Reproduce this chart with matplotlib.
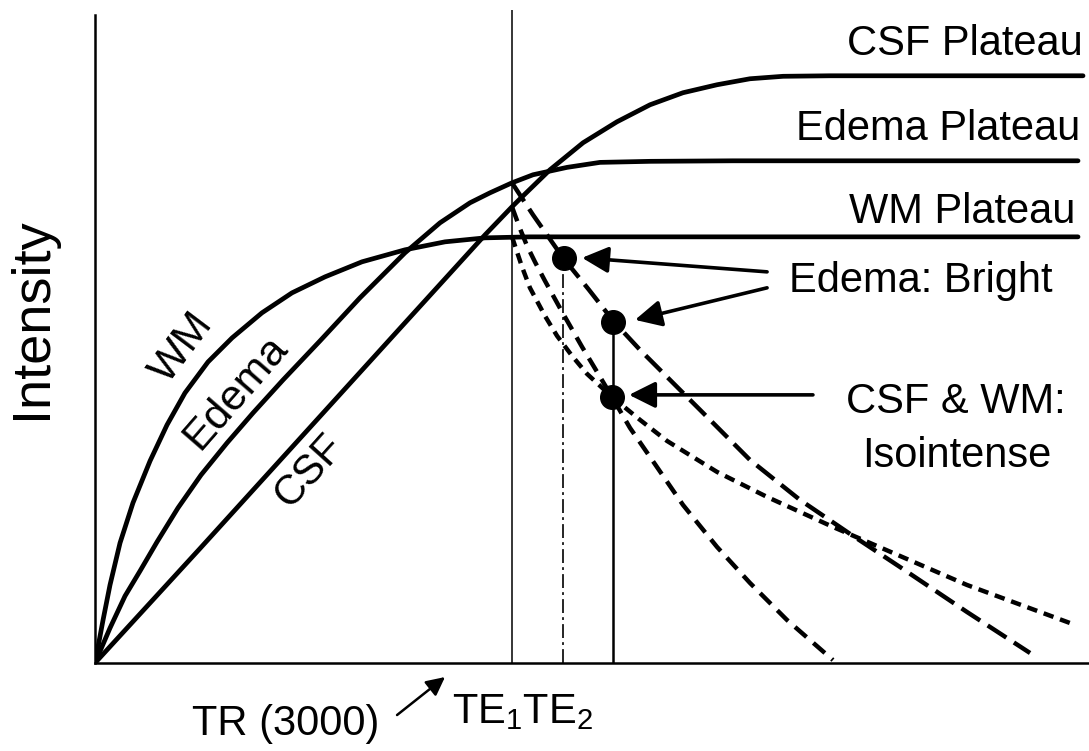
import matplotlib
matplotlib.use('Agg')
import matplotlib.pyplot as plt

plt.rcParams['font.family'] = ['Liberation Sans', 'DejaVu Sans']
plt.rcParams['mathtext.fontset'] = 'custom'
plt.rcParams['mathtext.rm'] = 'Liberation Sans'
plt.rcParams['mathtext.it'] = 'Liberation Sans'
plt.rcParams['lines.scale_dashes'] = False

# time axis in ms, intensity in % of the CSF plateau
TR = 3000
TE1 = 3365
TE2 = 3725
X_END = 7151
Y_TOP = 111.2

# T1 recovery curves
wm_x = [0, 58, 108, 180, 273, 396, 518, 647, 813, 986, 1201, 1417, 1655, 1921, 2230, 2518, 2806,
        3130, 7072]
wm_y = [0, 7.33, 13.29, 20.44, 27.26, 34.41, 40.54, 45.98, 51.27, 55.36, 59.63, 63.03, 65.76,
        68.32, 70.36, 71.72, 72.40, 72.57, 72.57]

edema_x = [0, 108, 216, 324, 446, 597, 763, 950, 1137, 1353, 1619, 1906, 2230, 2482, 2698, 2842,
           3000, 3151, 3396, 3633, 3993, 4590, 7072]
edema_y = [0, 5.96, 11.41, 15.67, 20.61, 26.41, 32.03, 37.48, 42.59, 48.21, 54.86, 62.18, 69.85,
           74.96, 78.37, 80.07, 81.77, 83.14, 84.40, 85.25, 85.43, 85.52, 85.52]

csf_x = [0, 755, 1475, 2194, 2806, 3000, 3058, 3273, 3511, 3755, 3993, 4230, 4475, 4712, 4950,
         5288, 7108]
csf_y = [0, 19.49, 38.25, 56.99, 72.91, 77.69, 79.05, 83.99, 88.59, 92.16, 95.06, 97.11, 98.47,
         99.49, 99.91, 100.0, 100.0]

# T2 decay curves after TR
edema_dec_x = [3000, 3151, 3367, 3554, 3734, 3921, 4187, 4353, 4712, 5072, 5432, 5791, 6273, 6727]
edema_dec_y = [81.77, 76.32, 69.00, 63.54, 58.09, 53.32, 47.02, 43.10, 34.58, 27.77, 21.98, 16.35,
               8.69, 1.70]

csf_dec_x = [3000, 3058, 3108, 3165, 3237, 3360, 3504, 3612, 3719, 3849, 3993, 4230, 4475, 4712,
             4978, 5309]
csf_dec_y = [77.68, 73.94, 71.04, 68.31, 65.08, 59.80, 53.83, 49.57, 45.32, 40.03, 35.09, 26.92,
             19.76, 13.63, 7.33, 0.5]

wm_dec_x = [3000, 3036, 3072, 3129, 3237, 3324, 3432, 3540, 3719, 3921, 4115, 4475, 4835, 5309,
            5791, 6273, 7014]
wm_dec_y = [72.57, 70.02, 67.46, 63.89, 59.11, 55.71, 52.30, 49.23, 45.32, 41.40, 37.82, 32.54,
            28.28, 23.17, 18.23, 13.29, 6.81]

# marked points
dot_x = [3372, 3725, 3722]
dot_y = [68.9, 58.1, 45.3]

fig = plt.figure(figsize=(10.89, 7.51), dpi=100)
ax = fig.add_axes([95 / 1089, 88 / 751, 994 / 1089, 653 / 751])
ax.set_xlim(0, X_END)
ax.set_ylim(0, Y_TOP)
ax.set_xticks([])
ax.set_yticks([])
ax.spines['top'].set_visible(False)
ax.spines['right'].set_visible(False)
ax.spines['left'].set_linewidth(1.8)
ax.spines['bottom'].set_linewidth(1.8)
ax.spines['left'].set_bounds(0, 110.4)

k = 'black'
ax.plot(wm_x, wm_y, color=k, lw=3.4, solid_capstyle='round')
ax.plot(edema_x, edema_y, color=k, lw=3.4, solid_capstyle='round')
ax.plot(csf_x, csf_y, color=k, lw=3.4, solid_capstyle='round')

ax.plot(edema_dec_x, edema_dec_y, color=k, lw=3.2, dashes=(16, 6.5))
ax.plot(csf_dec_x, csf_dec_y, color=k, lw=3.2, dashes=(11, 6.5))
ax.plot(wm_dec_x, wm_dec_y, color=k, lw=3.2, dashes=(7.5, 5))

ax.axvline(TR, color=k, lw=1.1)
ax.plot([TE1, TE1], [0, dot_y[0]], color=k, lw=1.2, dashes=(10, 3, 2, 3))
ax.plot([TE2, TE2], [0, dot_y[1]], color=k, lw=1.8)
ax.plot(dot_x, dot_y, 'o', color=k, ms=17, ls='none')

fs = 30
ax.text(7108, 103.58, 'CSF Plateau', fontsize=fs, ha='right', va='baseline')
ax.text(7086, 89.10, 'Edema Plateau', fontsize=fs, ha='right', va='baseline')
ax.text(7050, 74.96, 'WM Plateau', fontsize=fs, ha='right', va='baseline')
ax.text(5942, 63.20, 'Edema: Bright', fontsize=fs, ha='center', va='baseline')
ax.text(6194, 42.59, 'CSF & WM:', fontsize=fs, ha='center', va='baseline')
ax.text(6201, 33.39, 'Isointense', fontsize=fs, ha='center', va='baseline')
ax.text(1374, -12.27, 'TR (3000)', fontsize=fs, ha='center', va='baseline')
ax.text(2568, -10.22, 'TE$_1$TE$_2$', fontsize=fs, ha='left', va='baseline')

ax.text(626, 53.66, 'WM', fontsize=31, rotation=53, ha='center', va='center', rotation_mode='anchor')
ax.text(1014, 46.17, 'Edema', fontsize=31, rotation=49, ha='center', va='center', rotation_mode='anchor')
ax.text(1547, 32.7, 'CSF', fontsize=30, rotation=48, ha='center', va='center', rotation_mode='anchor')

fig.text(32 / 1089, 1 - 318 / 751, 'Intensity', fontsize=39, rotation=90, ha='center', va='center')

arr = dict(arrowstyle='-|>,head_length=0.4,head_width=0.2', mutation_scale=40, color=k, lw=2.6,
           shrinkA=0, shrinkB=0)
ax.annotate('', xy=(3504, 69.0), xytext=(4835, 66.61), arrowprops=arr)
ax.annotate('', xy=(3885, 58.43), xytext=(4835, 63.89), arrowprops=arr)
ax.annotate('', xy=(3842, 45.66), xytext=(5165, 45.66), arrowprops=arr)
small = dict(arrowstyle='-|>,head_length=0.4,head_width=0.2', mutation_scale=28, color=k, lw=1.8,
             shrinkA=0, shrinkB=0)
ax.annotate('', xy=(2518, -2.39), xytext=(2173, -8.86), arrowprops=small, annotation_clip=False)

fig.savefig('out.png', dpi=100)
